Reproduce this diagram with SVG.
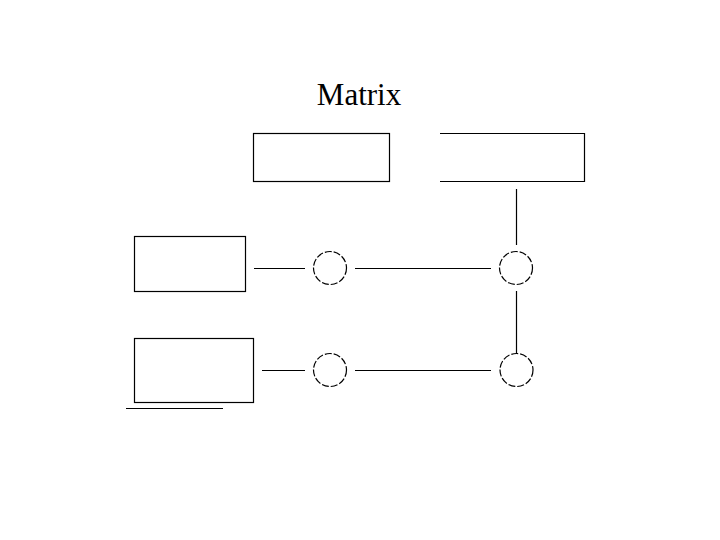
<svg xmlns="http://www.w3.org/2000/svg" width="720" height="540" viewBox="0 0 720 540">
<style>
.b{fill:none;stroke:#000;stroke-width:1.2}
.c{fill:none;stroke:#000;stroke-width:1.2;stroke-dasharray:7,2}
.l{fill:none;stroke:#000;stroke-width:1.2}
.t{font-family:"Liberation Serif",serif;font-size:31px;fill:#000}
</style>
<rect width="720" height="540" fill="#fff"/>
<text class="t" x="359" y="105" text-anchor="middle">Matrix</text>
<g id="box1"><rect class="b" x="253.5" y="133.5" width="136" height="48"/></g>
<g id="box2"><path class="b" d="M440,133.5 H584.5 V181.5 H440"/></g>
<g id="box3"><rect class="b" x="134.5" y="236.5" width="111" height="55"/></g>
<g id="box4"><rect class="b" x="134.5" y="338.5" width="119" height="64"/><line class="l" x1="126" y1="408.5" x2="223" y2="408.5"/></g>
<g id="n1"><circle class="c" cx="330" cy="268" r="16.5"/></g>
<g id="n2"><circle class="c" cx="516" cy="268" r="16.5"/></g>
<g id="n3"><circle class="c" cx="330" cy="370" r="16.5"/></g>
<g id="n4"><circle class="c" cx="516.5" cy="370" r="16.5"/></g>
<g id="connectors">
<line class="l" x1="254" y1="268.5" x2="305" y2="268.5"/>
<line class="l" x1="355" y1="268.5" x2="491" y2="268.5"/>
<line class="l" x1="262" y1="370.5" x2="305" y2="370.5"/>
<line class="l" x1="355" y1="370.5" x2="491" y2="370.5"/>
<line class="l" x1="516.5" y1="189" x2="516.5" y2="245"/>
<line class="l" x1="516.5" y1="291" x2="516.5" y2="354"/>
</g>
</svg>
